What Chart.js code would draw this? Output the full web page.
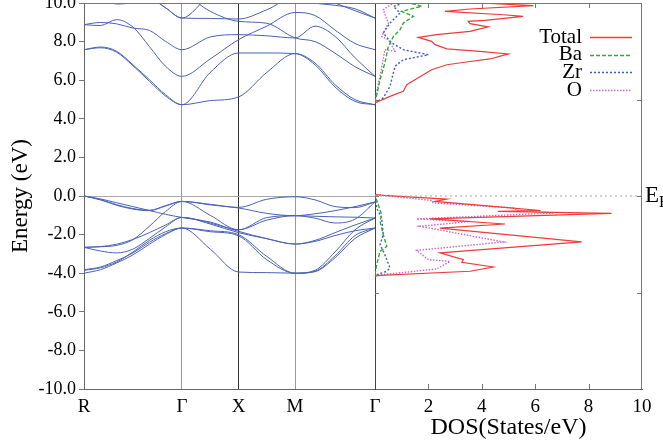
<!DOCTYPE html>
<html>
<head>
<meta charset="utf-8">
<script src="https://cdn.jsdelivr.net/npm/chart.js@4"></script>
<style>
  html, body { margin: 0; padding: 0; background: #fff; }
  #wrap { position: relative; width: 663px; height: 442px; overflow: hidden; }
  #bands { position: absolute; left: 0; top: 0; }
  #dos { position: absolute; left: 375px; top: 0; }
</style>
</head>
<body>
<div id="wrap">
  <canvas id="bands" width="400" height="442"></canvas>
  <canvas id="dos" width="288" height="442"></canvas>
</div>
<script>
// k path R - G - X - M - G (units of pi/a)
const kLabels = ['R', 'Γ', 'X', 'M', 'Γ'];
const kTicks = [0, 1.732, 2.732, 3.732, 5.146];
const kPoints = [0, 0.289, 0.577, 0.866, 1.155, 1.443, 1.732, 2.232, 2.732, 3.232, 3.732, 4.086, 4.439, 4.793, 5.146];

// valence bands (eV)
const vb1 = [0, -0.18, -0.45, -0.65, -0.74, -0.5, -0.28, -0.43, -0.59, -0.17, -0.04, -0.2, -0.55, -0.6, -0.31];
const vb2 = [-2.66, -2.63, -2.56, -2.26, -1.57, -0.8, -0.28, -0.46, -0.62, -0.9, -1.02, -0.92, -0.76, -0.55, -0.31];
const vb3 = [0, -0.2, -0.48, -0.68, -0.76, -0.52, -0.28, -1.0, -1.75, -1.12, -1.02, -1.15, -1.4, -1.2, -0.31];
const vb4 = [0, -0.15, -0.35, -0.55, -0.75, -0.95, -1.11, -1.35, -1.75, -1.25, -1.02, -1.05, -1.08, -1.1, -1.14];
const vb5 = [-2.66, -2.85, -2.95, -2.75, -2.2, -1.6, -1.11, -1.4, -1.83, -2.21, -2.49, -2.35, -2.05, -1.8, -1.66];
const vb6 = [-2.66, -2.62, -2.5, -2.25, -1.9, -1.5, -1.11, -1.45, -1.9, -2.21, -2.49, -2.3, -1.9, -1.5, -1.14];
const vb7 = [-3.82, -3.68, -3.35, -2.95, -2.4, -1.95, -1.66, -1.8, -2.0, -3.13, -4.0, -3.85, -2.9, -1.75, -1.14];
const vb8 = [-4.0, -3.82, -3.47, -3.05, -2.5, -2.0, -1.66, -1.85, -2.06, -3.3, -4.0, -3.9, -3.1, -2.05, -1.66];
const vb9 = [-3.85, -3.72, -3.42, -2.9, -2.3, -1.85, -1.66, -2.75, -3.94, -3.97, -4.0, -3.92, -3.2, -2.2, -1.66];

// conduction bands (eV)
const cb1 = [7.58, 7.72, 7.5, 6.8, 6.03, 5.25, 4.73, 4.94, 5.13, 6.4, 7.38, 6.89, 5.77, 4.99, 4.73];
const cb2 = [7.58, 7.68, 7.45, 6.75, 5.95, 5.18, 4.73, 6.4, 7.41, 7.41, 7.38, 6.8, 5.65, 4.9, 4.73];
const cb3 = [8.88, 8.83, 9.14, 8.75, 7.75, 6.72, 6.2, 7.1, 8.1, 8.8, 9.51, 9.35, 8.6, 7.9, 7.58];
const cb4 = [8.88, 8.99, 8.92, 8.7, 8.58, 8.01, 7.58, 8.24, 8.36, 8.3, 8.19, 8.8, 8.27, 7.16, 6.2];
const cb5 = [10.8, 10.8, 10.7, 10.5, 10.3, 9.75, 9.22, 9.2, 9.17, 9.65, 10.3, 10.0, 9.88, 9.7, 9.22];
const cb6 = [10.5, 10.3, 9.95, 10.05, 10.5, 10.6, 10.5, 9.57, 9.05, 8.95, 8.19, 8.0, 7.4, 6.7, 6.2];
const cb7 = [10.8, 10.8, 10.7, 10.5, 10.3, 9.75, 9.22, 10.4, 10.8, 10.8, 10.6, 10.4, 10.0, 9.6, 9.22];

// DOS curves: energy (eV) and states/eV, null splits valence / conduction
const totalE   = [-4.15, -4.11, -3.9, -3.68, -3.44, -3.3, -2.95, -2.38, -1.66, -1.45, -1.19, -0.9, -0.8, -0.75, -0.62, -0.28, -0.16, 0.03, 0.07, null,
                  4.82, 5.16, 5.42, 5.77, 6.08, 6.54, 6.8, 6.97, 7.1, 7.36, 7.49, 7.62, 7.84, 8.01, 8.22, 8.36, 8.53, 8.76, 8.93, 9.05, 9.1, 9.31, 9.39, 9.57, 9.69, 9.86, 10.0];
const totalDos = [0, 0.19, 3.56, 4.43, 3.25, 3.31, 2.43, 7.74, 2.43, 4.87, 2.06, 8.86, 4.6, 6.2, 5.06, 2.25, 2.69, 0.31, 0, null,
                  0, 0.56, 1.06, 1.19, 1.56, 2.12, 2.69, 3.56, 4.31, 4.99, 3.93, 2.69, 2.25, 2.12, 1.62, 2.31, 3.56, 4.24, 3.56, 3.49, 4.12, 5.55, 4.81, 2.62, 3.56, 5.93, 3.93];
const baE   = [-4.08, -3.56, -2.87, -2.61, -2.0, -1.31, -0.97, -0.45, 0.05, null,
               4.82, 6.03, 6.89, 7.75, 8.27, 8.62, 8.96, 9.31, 9.57, 9.83, 10.0];
const baDos = [0, 0.06, 0.19, 0.44, 0.31, 0.19, 0.25, 0.12, 0, null,
               0, 0.19, 0.37, 0.5, 0.69, 0.94, 1.06, 1.44, 1.0, 1.75, 1.31];
const zrE   = [-4.08, -3.9, -3.73, -3.04, -2.52, -2.0, -1.14, -0.62, 0.05, null,
               4.82, 5.08, 5.68, 6.72, 7.06, 7.32, 7.58, 7.93, 8.44, 8.96, 9.48, 9.82, 10.0];
const zrDos = [0.06, 0.44, 0.56, 0.37, 0.19, 0.31, 0.25, 0.06, 0, null,
               0, 0.31, 0.56, 0.75, 1.06, 2.0, 1.06, 0.62, 0.31, 0.56, 0.94, 0.69, 1.06];
const oE   = [-4.13, -4.08, -3.78, -3.39, -3.3, -2.82, -2.38, -1.57, -1.32, -1.19, -0.88, -0.74, -0.62, -0.36, -0.23, 0.07, null,
              4.99, 6.2, 7.58, 7.5, 8.1, 8.27, 8.96, 9.65, 10.0];
const oDos = [0, 0.25, 2.31, 2.81, 2.0, 1.56, 4.81, 1.69, 3.56, 1.56, 6.68, 5.3, 5.24, 2.18, 2.12, 0, null,
              0, 0.19, 0.37, 0.75, 0.5, 0.25, 0.5, 0.31, 0.69];

const dosTicks = [-5, 0, 5];

const serif = "'Liberation Serif', 'Times New Roman', serif";
Chart.defaults.font.family = serif;
Chart.defaults.color = '#000';

const bandColor = '#4a62b8';
const pathColors = ['#666', '#999', '#333', '#999', '#444'];

function bandSet(values) {
    return {
        data: kPoints.map((k, i) => ({ x: k, y: values[i] })),
        borderColor: bandColor,
        borderWidth: 1,
        pointRadius: 0,
        cubicInterpolationMode: 'monotone',
        fill: false
    };
}

function dosSet(label, energies, dos, color, dash, width) {
    return {
        label: label,
        data: energies.map((e, i) => ({ x: dos[i], y: e })),
        borderColor: color,
        borderDash: dash,
        borderWidth: width,
        pointRadius: 0,
        tension: 0,
        fill: false
    };
}

const topLine = {
    id: 'topLine',
    afterDraw(chart) {
        const { ctx, chartArea: a } = chart;
        ctx.save();
        ctx.strokeStyle = '#777';
        ctx.lineWidth = 1;
        ctx.beginPath();
        ctx.moveTo(a.left, a.top + 0.5);
        ctx.lineTo(a.right, a.top + 0.5);
        ctx.stroke();
        ctx.restore();
    }
};

new Chart(document.getElementById('bands'), {
    type: 'line',
    data: {
        datasets: [vb1, vb2, vb3, vb4, vb5, vb6, vb7, vb8, vb9, cb1, cb2, cb3, cb4, cb5, cb6, cb7].map(bandSet)
    },
    options: {
        responsive: false,
        animation: false,
        events: [],
        layout: { padding: { top: 3, right: 25, left: 0, bottom: 0 } },
        plugins: { legend: { display: false }, tooltip: { enabled: false } },
        scales: {
            x: {
                type: 'linear',
                min: 0,
                max: kTicks[4],
                afterBuildTicks: s => { s.ticks = kTicks.map(v => ({ value: v })); },
                ticks: {
                    callback: (v, i) => kLabels[i],
                    font: { size: 19 },
                    padding: 7,
                    maxRotation: 0,
                    autoSkip: false
                },
                grid: { color: c => pathColors[c.index], drawTicks: false },
                border: { color: '#666' },
                afterFit: s => { s.height = 53; s.paddingLeft = 0; s.paddingRight = 0; }
            },
            y: {
                min: -10,
                max: 10,
                ticks: { stepSize: 2, callback: v => v.toFixed(1), font: { size: 18 }, padding: 3 },
                grid: {
                    color: c => (c.tick && c.tick.value === 0) ? '#aaa' : 'rgba(0,0,0,0)',
                    tickColor: '#777',
                    tickLength: 5
                },
                border: { color: '#666' },
                title: { display: true, text: 'Energy (eV)', font: { size: 23 }, padding: { top: 7, bottom: 0 } },
                afterFit: s => { s.width = 84; s.paddingTop = 0; s.paddingBottom = 0; }
            }
        }
    },
    plugins: [topLine]
});

const dosFrame = {
    id: 'dosFrame',
    afterDraw(chart) {
        const { ctx, chartArea: a, scales: { x, y } } = chart;
        ctx.save();
        ctx.strokeStyle = '#777';
        ctx.lineWidth = 1;
        ctx.beginPath();
        ctx.moveTo(a.left, a.top + 0.5);
        ctx.lineTo(a.right, a.top + 0.5);
        ctx.moveTo(a.right - 0.5, a.top);
        ctx.lineTo(a.right - 0.5, a.bottom);
        x.ticks.forEach(t => {
            if (t.value <= x.min || t.value >= x.max) return;
            const px = Math.round(x.getPixelForValue(t.value)) + 0.5;
            ctx.moveTo(px, a.top);
            ctx.lineTo(px, a.top + 5);
            ctx.moveTo(px, a.bottom);
            ctx.lineTo(px, a.bottom - 5);
        });
        dosTicks.forEach(v => {
            const py = Math.round(y.getPixelForValue(v)) + 0.5;
            ctx.moveTo(a.left, py);
            ctx.lineTo(a.left + 4, py);
            ctx.moveTo(a.right, py);
            ctx.lineTo(a.right - 5, py);
        });
        ctx.stroke();

        // Fermi level label
        const yF = y.getPixelForValue(0);
        ctx.fillStyle = '#000';
        ctx.textBaseline = 'middle';
        ctx.textAlign = 'left';
        ctx.font = '23px ' + serif;
        ctx.fillText('E', a.right + 3, yF);
        const w = ctx.measureText('E').width;
        ctx.font = '16px ' + serif;
        ctx.fillText('F', a.right + 3 + w, yF + 7);

        // legend, text right-aligned with the line sample after it
        let row = 0;
        chart.data.datasets.forEach(ds => {
            if (!ds.label) return;
            const ly = 37 + row * 17.7;
            ctx.font = '21px ' + serif;
            ctx.textAlign = 'right';
            ctx.fillStyle = '#000';
            ctx.fillText(ds.label, 207, ly);
            ctx.strokeStyle = ds.borderColor;
            ctx.lineWidth = 1.3;
            ctx.setLineDash(ds.borderDash || []);
            ctx.beginPath();
            ctx.moveTo(215, Math.round(ly) + 0.5);
            ctx.lineTo(257, Math.round(ly) + 0.5);
            ctx.stroke();
            ctx.setLineDash([]);
            row++;
        });
        ctx.restore();
    }
};

new Chart(document.getElementById('dos'), {
    type: 'line',
    data: {
        datasets: [
            {
                data: [{ x: 0, y: 0 }, { x: 10, y: 0 }],
                borderColor: '#aaa',
                borderDash: [2, 3],
                borderWidth: 1,
                pointRadius: 0
            },
            dosSet('Total', totalE, totalDos, '#ee3b3b', [], 1.2),
            dosSet('Ba', baE, baDos, '#35a835', [4, 2], 1.4),
            dosSet('Zr', zrE, zrDos, '#3a5ccc', [2, 2], 1.4),
            dosSet('O', oE, oDos, '#cc66cc', [1.5, 1.5], 1.4)
        ]
    },
    options: {
        responsive: false,
        animation: false,
        events: [],
        layout: { padding: { top: 3, right: 21, left: 0, bottom: 0 } },
        plugins: { legend: { display: false }, tooltip: { enabled: false } },
        scales: {
            x: {
                type: 'linear',
                min: 0,
                max: 10,
                ticks: {
                    stepSize: 2,
                    callback: v => v === 0 ? '' : String(v),
                    font: { size: 19 },
                    padding: 7,
                    maxRotation: 0,
                    autoSkip: false
                },
                grid: { display: false, drawTicks: false },
                border: { color: '#666' },
                title: { display: true, text: 'DOS(States/eV)', font: { size: 24 }, padding: { top: 0, bottom: 0 } },
                afterFit: s => { s.height = 53; s.paddingLeft = 0; s.paddingRight = 0; }
            },
            y: {
                min: -10,
                max: 10,
                ticks: { display: false },
                grid: { display: false, drawTicks: false },
                border: { color: '#444' },
                afterFit: s => { s.width = 0; s.paddingTop = 0; s.paddingBottom = 0; }
            }
        }
    },
    plugins: [dosFrame]
});
</script>
</body>
</html>
